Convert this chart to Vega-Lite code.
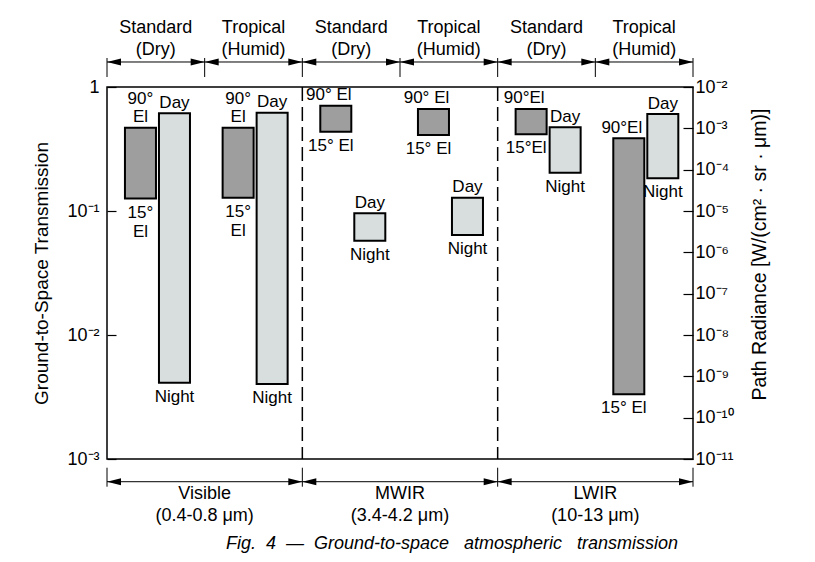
{
  "$schema": "https://vega.github.io/schema/vega-lite/v6.json",
  "width": 586,
  "height": 372,
  "autosize": {"type": "none"},
  "padding": {"left": 107, "top": 87, "right": 122, "bottom": 103},
  "background": "white",
  "title": {
    "text": "Fig. \u00a04 \u00a0— \u00a0Ground-to-space \u00a0\u00a0atmospheric \u00a0\u00a0transmission",
    "orient": "bottom",
    "anchor": "middle",
    "frame": "group",
    "dx": 52,
    "offset": 10,
    "fontSize": 18,
    "fontStyle": "italic",
    "fontWeight": "normal",
    "color": "black",
    "font": "Liberation Sans"
  },
  "config": {
    "view": {"stroke": "black", "strokeWidth": 1.5},
    "axis": {"labelFont": "Liberation Sans", "titleFont": "Liberation Sans", "labelColor": "black", "titleColor": "black", "tickColor": "black", "grid": false, "domain": false, "labelOverlap": false},
    "text": {"font": "Liberation Sans", "fill": "black"}
  },
  "datasets": {
    "cols": [
      {"col": "Visible|Standard", "head": "Standard\n(Dry)"},
      {"col": "Visible|Tropical", "head": "Tropical\n(Humid)"},
      {"col": "MWIR|Standard", "head": "Standard\n(Dry)"},
      {"col": "MWIR|Tropical", "head": "Tropical\n(Humid)"},
      {"col": "LWIR|Standard", "head": "Standard\n(Dry)"},
      {"col": "LWIR|Tropical", "head": "Tropical\n(Humid)"}
    ],
    "sections": [
      {"section": "Visible", "std": "Visible|Standard", "trop": "Visible|Tropical", "label": "Visible\n(0.4-0.8 μm)"},
      {"section": "MWIR", "std": "MWIR|Standard", "trop": "MWIR|Tropical", "label": "MWIR\n(3.4-4.2 μm)"},
      {"section": "LWIR", "std": "LWIR|Standard", "trop": "LWIR|Tropical", "label": "LWIR\n(10-13 μm)"}
    ],
    "trans": [
      {"col": "Visible|Standard", "kind": "Transmission", "hi": 0.47, "lo": 0.126, "hiLabel": "90°\nEl", "loLabel": "15°\nEl"},
      {"col": "Visible|Tropical", "kind": "Transmission", "hi": 0.47, "lo": 0.128, "hiLabel": "90°\nEl", "loLabel": "15°\nEl"},
      {"col": "MWIR|Standard", "kind": "Transmission", "hi": 0.707, "lo": 0.436, "hiLabel": "90° El", "loLabel": "15° El"},
      {"col": "MWIR|Tropical", "kind": "Transmission", "hi": 0.665, "lo": 0.41, "hiLabel": "90° El", "loLabel": "15° El"},
      {"col": "LWIR|Standard", "kind": "Transmission", "hi": 0.665, "lo": 0.415, "hiLabel": "90°El", "loLabel": "15°El"},
      {"col": "LWIR|Tropical", "kind": "Transmission", "hi": 0.386, "lo": 0.00333, "hiLabel": "90°El", "loLabel": "15° El"}
    ],
    "rad": [
      {"col": "Visible|Standard", "kind": "Radiance", "hi": 2.31e-3, "lo": 7.0e-10, "hiLabel": "Day", "loLabel": "Night"},
      {"col": "Visible|Tropical", "kind": "Radiance", "hi": 2.39e-3, "lo": 6.5e-10, "hiLabel": "Day", "loLabel": "Night"},
      {"col": "MWIR|Standard", "kind": "Radiance", "hi": 8.8e-6, "lo": 1.91e-6, "hiLabel": "Day", "loLabel": "Night"},
      {"col": "MWIR|Tropical", "kind": "Radiance", "hi": 2.1e-5, "lo": 2.62e-6, "hiLabel": "Day", "loLabel": "Night"},
      {"col": "LWIR|Standard", "kind": "Radiance", "hi": 1.06e-3, "lo": 8.4e-5, "hiLabel": "Day", "loLabel": "Night"},
      {"col": "LWIR|Tropical", "kind": "Radiance", "hi": 2.22e-3, "lo": 6.2e-5, "hiLabel": "Day", "loLabel": "Night"}
    ]
  },
  "layer": [
    {
      "layer": [
        {
          "data": {"name": "trans"},
          "mark": {"type": "bar", "fill": "#9e9e9e", "stroke": "black", "strokeWidth": 2},
          "encoding": {
            "x": {"field": "col", "type": "nominal", "sort": null, "scale": {"type": "band", "domain": ["Visible|Standard", "Visible|Tropical", "MWIR|Standard", "MWIR|Tropical", "LWIR|Standard", "LWIR|Tropical"], "paddingInner": 0, "paddingOuter": 0}, "axis": null},
            "xOffset": {"field": "kind", "type": "nominal", "scale": {"domain": ["Transmission", "Radiance"], "paddingInner": 0.088, "paddingOuter": 0.48, "align": 0.55}},
            "y": {"field": "hi", "type": "quantitative", "scale": {"type": "log", "domain": [0.001, 1]},
              "axis": {"orient": "left", "values": [1, 0.1, 0.01, 0.001], "labelExpr": "datum.value > 0.5 ? '1' : datum.value > 0.05 ? '10⁻¹' : datum.value > 0.005 ? '10⁻²' : '10⁻³'", "title": "Ground-to-Space Transmission", "tickSize": -9, "tickWidth": 1.2, "labelPadding": 17, "labelFontSize": 18, "titleFontSize": 19, "titleFontWeight": "normal", "titlePadding": 15}},
            "y2": {"field": "lo"}
          }
        },
        {
          "data": {"name": "trans"},
          "transform": [{"filter": "indexof(datum.hiLabel, '\\n') >= 0"}],
          "mark": {"type": "text", "baseline": "bottom", "dy": -19.5, "fontSize": 17, "lineHeight": 18, "lineBreak": "\n"},
          "encoding": {
            "x": {"field": "col", "type": "nominal"},
            "xOffset": {"field": "kind", "type": "nominal"},
            "y": {"field": "hi", "type": "quantitative"},
            "text": {"field": "hiLabel"}
          }
        },
        {
          "data": {"name": "trans"},
          "transform": [{"filter": "indexof(datum.hiLabel, '\\n') < 0"}],
          "mark": {"type": "text", "baseline": "bottom", "dy": -1.5, "dx": -7, "fontSize": 17},
          "encoding": {
            "x": {"field": "col", "type": "nominal"},
            "xOffset": {"field": "kind", "type": "nominal"},
            "y": {"field": "hi", "type": "quantitative"},
            "text": {"field": "hiLabel"}
          }
        },
        {
          "data": {"name": "trans"},
          "transform": [{"filter": "indexof(datum.loLabel, '\\n') >= 0"}],
          "mark": {"type": "text", "baseline": "top", "dy": 6, "fontSize": 17, "lineHeight": 19, "lineBreak": "\n"},
          "encoding": {
            "x": {"field": "col", "type": "nominal"},
            "xOffset": {"field": "kind", "type": "nominal"},
            "y": {"field": "lo", "type": "quantitative"},
            "text": {"field": "loLabel"}
          }
        },
        {
          "data": {"name": "trans"},
          "transform": [{"filter": "indexof(datum.loLabel, '\\n') < 0"}],
          "mark": {"type": "text", "baseline": "top", "dy": 6, "dx": -5, "fontSize": 17},
          "encoding": {
            "x": {"field": "col", "type": "nominal"},
            "xOffset": {"field": "kind", "type": "nominal"},
            "y": {"field": "lo", "type": "quantitative"},
            "text": {"field": "loLabel"}
          }
        },
        {
          "data": {"name": "sections"},
          "transform": [{"filter": "datum.section != 'Visible'"}],
          "mark": {"type": "rule", "color": "black", "strokeWidth": 1.5, "strokeDash": [14, 6]},
          "encoding": {
            "x": {"field": "std", "type": "nominal", "bandPosition": 0}
          }
        },
        {
          "data": {"name": "cols"},
          "mark": {"type": "rule", "color": "black", "strokeWidth": 1},
          "encoding": {
            "x": {"field": "col", "type": "nominal", "bandPosition": 0},
            "y": {"datum": 1.713, "type": "quantitative"},
            "y2": {"datum": 1.204}
          }
        },
        {
          "data": {"name": "cols"},
          "transform": [{"filter": "datum.col == 'LWIR|Tropical'"}],
          "mark": {"type": "rule", "color": "black", "strokeWidth": 1},
          "encoding": {
            "x": {"field": "col", "type": "nominal", "bandPosition": 1},
            "y": {"datum": 1.713, "type": "quantitative"},
            "y2": {"datum": 1.204}
          }
        },
        {
          "data": {"name": "cols"},
          "mark": {"type": "rule", "color": "black", "strokeWidth": 1},
          "encoding": {
            "x": {"field": "col", "type": "nominal", "bandPosition": 0},
            "x2": {"field": "col", "bandPosition": 1},
            "y": {"datum": 1.591, "type": "quantitative"}
          }
        },
        {
          "data": {"name": "cols"},
          "mark": {"type": "point", "shape": "M0,0L2,-0.5L2,0.5Z", "size": 196, "filled": true, "color": "black", "opacity": 1},
          "encoding": {
            "x": {"field": "col", "type": "nominal", "bandPosition": 0},
            "y": {"datum": 1.591, "type": "quantitative"}
          }
        },
        {
          "data": {"name": "cols"},
          "mark": {"type": "point", "shape": "M0,0L-2,-0.5L-2,0.5Z", "size": 196, "filled": true, "color": "black", "opacity": 1},
          "encoding": {
            "x": {"field": "col", "type": "nominal", "bandPosition": 1},
            "y": {"datum": 1.591, "type": "quantitative"}
          }
        },
        {
          "data": {"name": "cols"},
          "mark": {"type": "text", "baseline": "middle", "fontSize": 18, "lineHeight": 22, "lineBreak": "\n"},
          "encoding": {
            "x": {"field": "col", "type": "nominal"},
            "y": {"datum": 3.018, "type": "quantitative"},
            "text": {"field": "head"}
          }
        },
        {
          "data": {"name": "sections"},
          "mark": {"type": "rule", "color": "black", "strokeWidth": 1},
          "encoding": {
            "x": {"field": "std", "type": "nominal", "bandPosition": 0},
            "y": {"datum": 0.0008507, "type": "quantitative"},
            "y2": {"datum": 0.0005977}
          }
        },
        {
          "data": {"name": "sections"},
          "transform": [{"filter": "datum.section == 'LWIR'"}],
          "mark": {"type": "rule", "color": "black", "strokeWidth": 1},
          "encoding": {
            "x": {"field": "trop", "type": "nominal", "bandPosition": 1},
            "y": {"datum": 0.0008507, "type": "quantitative"},
            "y2": {"datum": 0.0005977}
          }
        },
        {
          "data": {"name": "sections"},
          "mark": {"type": "rule", "color": "black", "strokeWidth": 1},
          "encoding": {
            "x": {"field": "std", "type": "nominal", "bandPosition": 0},
            "x2": {"field": "trop", "bandPosition": 1},
            "y": {"datum": 0.000656, "type": "quantitative"}
          }
        },
        {
          "data": {"name": "sections"},
          "mark": {"type": "point", "shape": "M0,0L2,-0.5L2,0.5Z", "size": 196, "filled": true, "color": "black", "opacity": 1},
          "encoding": {
            "x": {"field": "std", "type": "nominal", "bandPosition": 0},
            "y": {"datum": 0.000656, "type": "quantitative"}
          }
        },
        {
          "data": {"name": "sections"},
          "mark": {"type": "point", "shape": "M0,0L-2,-0.5L-2,0.5Z", "size": 196, "filled": true, "color": "black", "opacity": 1},
          "encoding": {
            "x": {"field": "trop", "type": "nominal", "bandPosition": 1},
            "y": {"datum": 0.000656, "type": "quantitative"}
          }
        },
        {
          "data": {"name": "sections"},
          "mark": {"type": "text", "baseline": "middle", "fontSize": 18, "lineHeight": 22, "lineBreak": "\n"},
          "encoding": {
            "x": {"field": "trop", "type": "nominal", "bandPosition": 0},
            "y": {"datum": 0.000519, "type": "quantitative"},
            "text": {"field": "label"}
          }
        }
      ]
    },
    {
      "layer": [
        {
          "data": {"name": "rad"},
          "mark": {"type": "bar", "fill": "#d8dddd", "stroke": "black", "strokeWidth": 2},
          "encoding": {
            "x": {"field": "col", "type": "nominal"},
            "xOffset": {"field": "kind", "type": "nominal"},
            "y": {"field": "hi", "type": "quantitative", "scale": {"type": "log", "domain": [1e-11, 0.01]},
              "axis": {"orient": "right", "values": [0.01, 0.001, 0.0001, 0.00001, 0.000001, 1e-7, 1e-8, 1e-9, 1e-10, 1e-11], "labelExpr": "'10⁻' + ['','¹','²','³','⁴','⁵','⁶','⁷','⁸','⁹','¹⁰','¹¹'][round(-log(datum.value)/LN10)]", "title": "Path Radiance [W/(cm² · sr · μm)]", "titleAngle": 270, "titleY": 167, "tickSize": -10, "tickWidth": 1.2, "labelPadding": 12, "labelFontSize": 18, "titleFontSize": 19.5, "titleFontWeight": "normal", "titlePadding": 36}},
            "y2": {"field": "lo"}
          }
        },
        {
          "data": {"name": "rad"},
          "mark": {"type": "text", "baseline": "bottom", "dy": -1.5, "fontSize": 17},
          "encoding": {
            "x": {"field": "col", "type": "nominal"},
            "xOffset": {"field": "kind", "type": "nominal"},
            "y": {"field": "hi", "type": "quantitative"},
            "text": {"field": "hiLabel"}
          }
        },
        {
          "data": {"name": "rad"},
          "mark": {"type": "text", "baseline": "top", "dy": 6, "fontSize": 17},
          "encoding": {
            "x": {"field": "col", "type": "nominal"},
            "xOffset": {"field": "kind", "type": "nominal"},
            "y": {"field": "lo", "type": "quantitative"},
            "text": {"field": "loLabel"}
          }
        }
      ]
    }
  ],
  "resolve": {"scale": {"y": "independent"}, "axis": {"y": "independent"}}
}
